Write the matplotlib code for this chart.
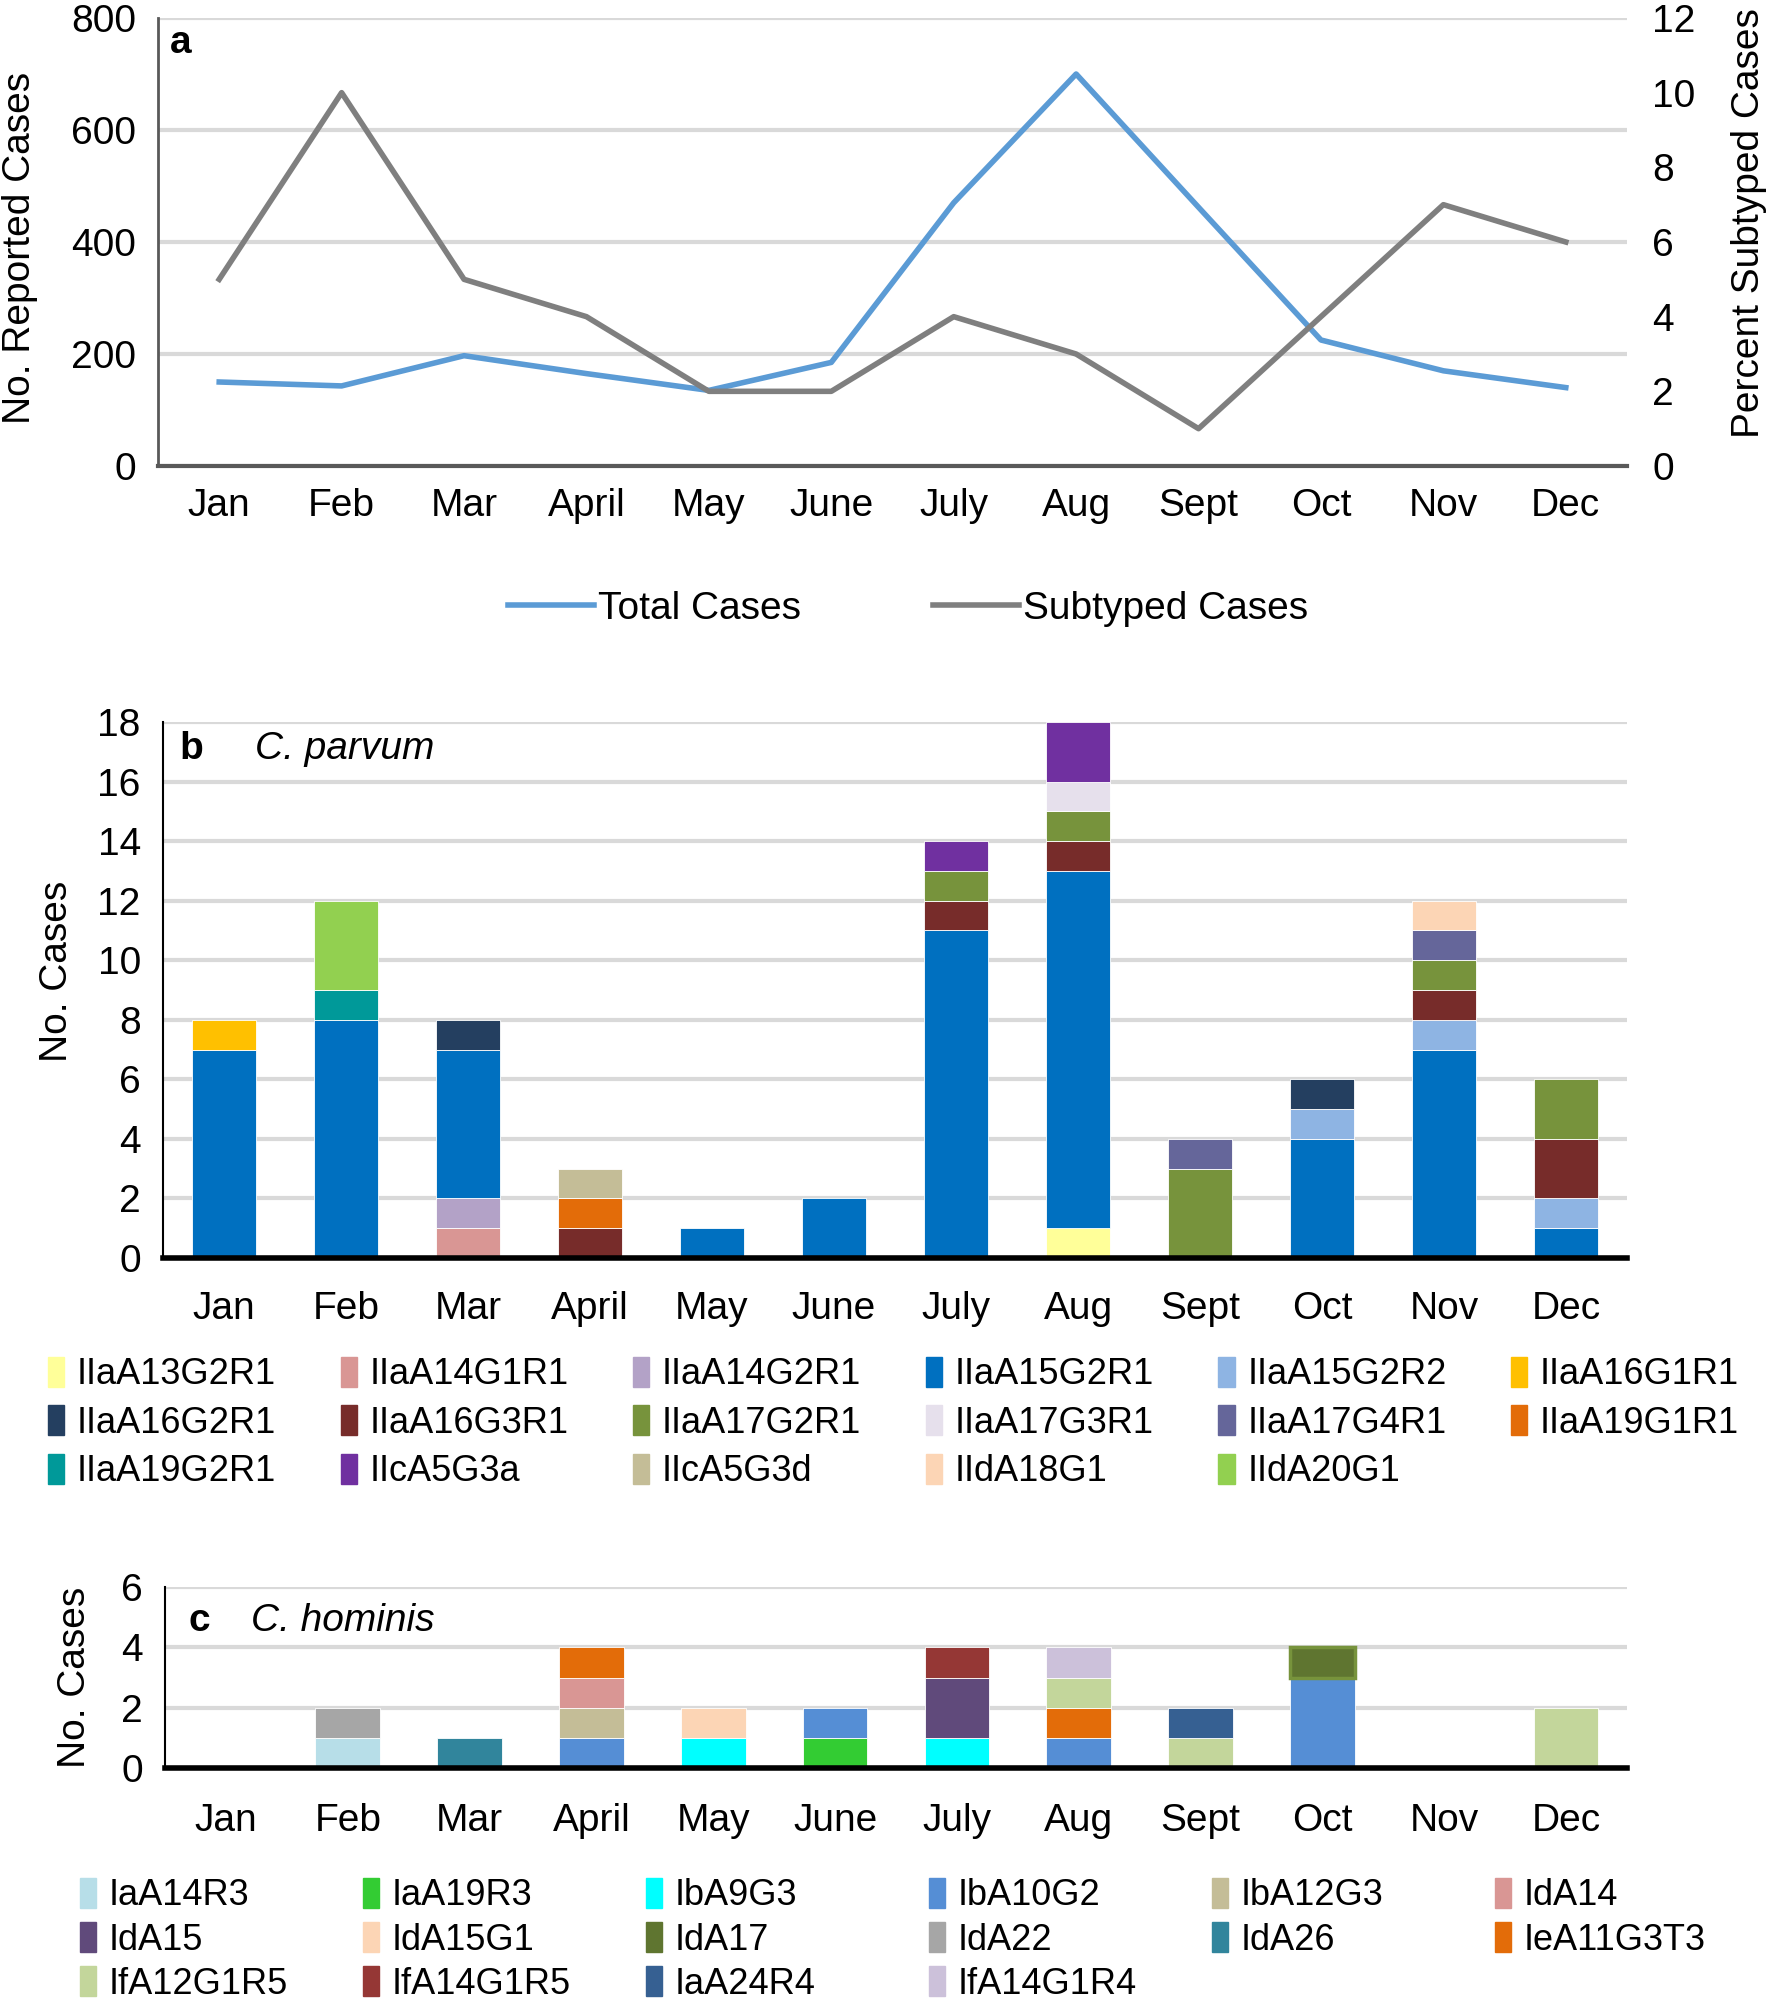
import matplotlib
matplotlib.use("Agg")
import matplotlib.pyplot as plt
import numpy as np
from matplotlib.patches import Patch
from matplotlib.lines import Line2D

plt.rcParams['font.family'] = ['Liberation Sans', 'DejaVu Sans']
plt.rcParams['font.size'] = 28

months = ['Jan', 'Feb', 'Mar', 'April', 'May', 'June', 'July', 'Aug', 'Sept', 'Oct', 'Nov', 'Dec']

# panel a
total_cases = [150, 143, 197, 165, 135, 185, 470, 700, 462, 225, 170, 140]
pct_subtyped = [5, 10, 5, 4, 2, 2, 4, 3, 1, 4, 7, 6]

# panel b - C. parvum subtypes (stack order = legend order)
parvum_labels = ['IIaA13G2R1', 'IIaA14G1R1', 'IIaA14G2R1', 'IIaA15G2R1', 'IIaA15G2R2', 'IIaA16G1R1',
                 'IIaA16G2R1', 'IIaA16G3R1', 'IIaA17G2R1', 'IIaA17G3R1', 'IIaA17G4R1', 'IIaA19G1R1',
                 'IIaA19G2R1', 'IIcA5G3a', 'IIcA5G3d', 'IIdA18G1', 'IIdA20G1']
parvum_colors = ['#FFFF99', '#D99694', '#B3A2C7', '#0070C0', '#8EB4E3', '#FFC000',
                 '#243F60', '#772C2A', '#77933C', '#E6E0EC', '#65669A', '#E36C09',
                 '#009999', '#7030A0', '#C4BD97', '#FCD5B5', '#92D050']
#                 Jan Feb Mar Apr May Jun Jul Aug Sep Oct Nov Dec
parvum_counts = [[0, 0, 0, 0, 0, 0, 0, 1, 0, 0, 0, 0],   # IIaA13G2R1
                 [0, 0, 1, 0, 0, 0, 0, 0, 0, 0, 0, 0],   # IIaA14G1R1
                 [0, 0, 1, 0, 0, 0, 0, 0, 0, 0, 0, 0],   # IIaA14G2R1
                 [7, 8, 5, 0, 1, 2, 11, 12, 0, 4, 7, 1],  # IIaA15G2R1
                 [0, 0, 0, 0, 0, 0, 0, 0, 0, 1, 1, 1],   # IIaA15G2R2
                 [1, 0, 0, 0, 0, 0, 0, 0, 0, 0, 0, 0],   # IIaA16G1R1
                 [0, 0, 1, 0, 0, 0, 0, 0, 0, 1, 0, 0],   # IIaA16G2R1
                 [0, 0, 0, 1, 0, 0, 1, 1, 0, 0, 1, 2],   # IIaA16G3R1
                 [0, 0, 0, 0, 0, 0, 1, 1, 3, 0, 1, 2],   # IIaA17G2R1
                 [0, 0, 0, 0, 0, 0, 0, 1, 0, 0, 0, 0],   # IIaA17G3R1
                 [0, 0, 0, 0, 0, 0, 0, 0, 1, 0, 1, 0],   # IIaA17G4R1
                 [0, 0, 0, 1, 0, 0, 0, 0, 0, 0, 0, 0],   # IIaA19G1R1
                 [0, 1, 0, 0, 0, 0, 0, 0, 0, 0, 0, 0],   # IIaA19G2R1
                 [0, 0, 0, 0, 0, 0, 1, 2, 0, 0, 0, 0],   # IIcA5G3a
                 [0, 0, 0, 1, 0, 0, 0, 0, 0, 0, 0, 0],   # IIcA5G3d
                 [0, 0, 0, 0, 0, 0, 0, 0, 0, 0, 1, 0],   # IIdA18G1
                 [0, 3, 0, 0, 0, 0, 0, 0, 0, 0, 0, 0]]   # IIdA20G1

# panel c - C. hominis subtypes
hominis_labels = ['IaA14R3', 'IaA19R3', 'IbA9G3', 'IbA10G2', 'IbA12G3', 'IdA14',
                  'IdA15', 'IdA15G1', 'IdA17', 'IdA22', 'IdA26', 'IeA11G3T3',
                  'IfA12G1R5', 'IfA14G1R5', 'IaA24R4', 'IfA14G1R4']
hominis_colors = ['#B7DEE8', '#33CC33', '#00FFFF', '#558ED5', '#C4BD97', '#D99694',
                  '#604A7B', '#FCD5B5', '#5F7530', '#A6A6A6', '#31859C', '#E36C09',
                  '#C3D69B', '#953735', '#366092', '#CCC1DA']
hominis_counts = [[0, 1, 0, 0, 0, 0, 0, 0, 0, 0, 0, 0],  # IaA14R3
                  [0, 0, 0, 0, 0, 1, 0, 0, 0, 0, 0, 0],  # IaA19R3
                  [0, 0, 0, 0, 1, 0, 1, 0, 0, 0, 0, 0],  # IbA9G3
                  [0, 0, 0, 1, 0, 1, 0, 1, 0, 3, 0, 0],  # IbA10G2
                  [0, 0, 0, 1, 0, 0, 0, 0, 0, 0, 0, 0],  # IbA12G3
                  [0, 0, 0, 1, 0, 0, 0, 0, 0, 0, 0, 0],  # IdA14
                  [0, 0, 0, 0, 0, 0, 2, 0, 0, 0, 0, 0],  # IdA15
                  [0, 0, 0, 0, 1, 0, 0, 0, 0, 0, 0, 0],  # IdA15G1
                  [0, 0, 0, 0, 0, 0, 0, 0, 0, 1, 0, 0],  # IdA17
                  [0, 1, 0, 0, 0, 0, 0, 0, 0, 0, 0, 0],  # IdA22
                  [0, 0, 1, 0, 0, 0, 0, 0, 0, 0, 0, 0],  # IdA26
                  [0, 0, 0, 1, 0, 0, 0, 1, 0, 0, 0, 0],  # IeA11G3T3
                  [0, 0, 0, 0, 0, 0, 0, 1, 1, 0, 0, 2],  # IfA12G1R5
                  [0, 0, 0, 0, 0, 0, 1, 0, 0, 0, 0, 0],  # IfA14G1R5
                  [0, 0, 0, 0, 0, 0, 0, 0, 1, 0, 0, 0],  # IaA24R4
                  [0, 0, 0, 0, 0, 0, 0, 1, 0, 0, 0, 0]]  # IfA14G1R4

W, H = 1770, 2000
fig = plt.figure(figsize=(W / 100, H / 100), dpi=100)


def px_axes(l, t, r, b):
    return fig.add_axes([l / W, 1 - b / H, (r - l) / W, (b - t) / H])


def style(ax, ymax, step, spine_col='black', lw_left=1.5, lw_bottom=4):
    ax.set_xlim(-0.5, 11.5)
    ax.set_ylim(0, ymax)
    ax.set_yticks(np.arange(0, ymax + 0.1, step))
    ax.set_xticks(range(12))
    ax.set_xticklabels(months)
    ax.yaxis.grid(True, color='#D9D9D9', lw=3)
    ax.set_axisbelow(True)
    for s in ['top', 'right']:
        ax.spines[s].set_visible(False)
    ax.spines['left'].set_color(spine_col)
    ax.spines['left'].set_linewidth(lw_left)
    ax.spines['bottom'].set_color(spine_col)
    ax.spines['bottom'].set_linewidth(lw_bottom)
    ax.spines['bottom'].set_zorder(5)
    ax.tick_params(length=0)


def stacked(ax, labels, colors, counts, special=None):
    bottom = np.zeros(12)
    for lab, col, vals in zip(labels, colors, counts):
        vals = np.array(vals, dtype=float)
        ec = 'white'
        lw = 0.6
        if special and lab in special:
            ec, lw = special[lab], 2.5
        ax.bar(x, vals, 0.53, bottom=bottom, color=col, edgecolor=ec,
               linewidth=[lw if v > 0 else 0 for v in vals], label=lab)
        bottom += vals


x = np.arange(12)

# ---- panel a ----
ax1 = px_axes(158, 18, 1627, 466)
style(ax1, 800, 200, spine_col='#595959', lw_left=2, lw_bottom=3)
ax1.tick_params(axis='y', pad=16)
ax1.tick_params(axis='x', pad=16)
ax1.plot(x, total_cases, color='#5B9BD5', lw=4, solid_joinstyle='round')
ax1.set_ylabel('No. Reported Cases')
ax1.yaxis.set_label_coords(-0.082, 0.486)
ax1.text(0.008, 0.945, 'a', transform=ax1.transAxes, fontweight='bold', va='center', fontsize=28)
ax2 = ax1.twinx()
ax2.plot(x, pct_subtyped, color='#7F7F7F', lw=4, solid_joinstyle='round')
ax2.set_ylim(0, 12)
ax2.set_yticks(np.arange(0, 13, 2))
for s in ax2.spines.values():
    s.set_visible(False)
ax2.tick_params(length=0, pad=18)
ax2.set_ylabel('Percent Subtyped Cases', rotation=90)
ax2.yaxis.set_label_coords(1.071, 0.543)
fig.legend([Line2D([], [], color='#5B9BD5', lw=4), Line2D([], [], color='#7F7F7F', lw=4)],
           ['Total Cases', 'Subtyped Cases'], loc='center', bbox_to_anchor=(0.513, 1 - 609 / H),
           ncol=2, frameon=False, handlelength=2.2, handletextpad=0.1, columnspacing=3.4,
           fontsize=28)

# ---- panel b ----
axb = px_axes(163, 722, 1627, 1258)
style(axb, 18, 2)
axb.tick_params(axis='y', pad=16)
axb.tick_params(axis='x', pad=24)
stacked(axb, parvum_labels, parvum_colors, parvum_counts)
axb.set_ylabel('No. Cases')
axb.yaxis.set_label_coords(-0.060, 0.535)
axb.text(0.011, 0.95, 'b', transform=axb.transAxes, fontweight='bold', va='center', fontsize=28)
axb.text(0.063, 0.95, 'C. parvum', transform=axb.transAxes, style='italic', va='center', fontsize=28)

# ---- panel c ----
axc = px_axes(165, 1587, 1627, 1768)
style(axc, 6, 2)
axc.tick_params(axis='y', pad=16)
axc.tick_params(axis='x', pad=25)
stacked(axc, hominis_labels, hominis_colors, hominis_counts, special={'IdA17': '#77933C'})
axc.set_ylabel('No. Cases')
axc.yaxis.set_label_coords(-0.049, 0.5)
axc.text(0.016, 0.81, 'c', transform=axc.transAxes, fontweight='bold', va='center', fontsize=28)
axc.text(0.059, 0.81, 'C. hominis', transform=axc.transAxes, style='italic', va='center', fontsize=28)


# legends: one legend per column, row-major order like the source figure
def grid_legend(labels, colors, x0, dx, y_top, fsize, lspacing):
    for c in range(6):
        idx = list(range(c, len(labels), 6))
        handles = [Patch(facecolor=colors[i], edgecolor=colors[i]) for i in idx]
        fig.legend(handles, [labels[i] for i in idx], loc='upper left',
                   bbox_to_anchor=((x0 + c * dx) / W, 1 - y_top / H), frameon=False,
                   borderpad=0, borderaxespad=0, handlelength=0.45, handleheight=0.9,
                   handletextpad=0.35, labelspacing=lspacing, fontsize=fsize)


grid_legend(parvum_labels, parvum_colors, 48, 292.6, 1357, 26, 0.36)
grid_legend(hominis_labels, hominis_colors, 80, 283, 1878, 26, 0.24)

fig.savefig('out.png', dpi=100)
